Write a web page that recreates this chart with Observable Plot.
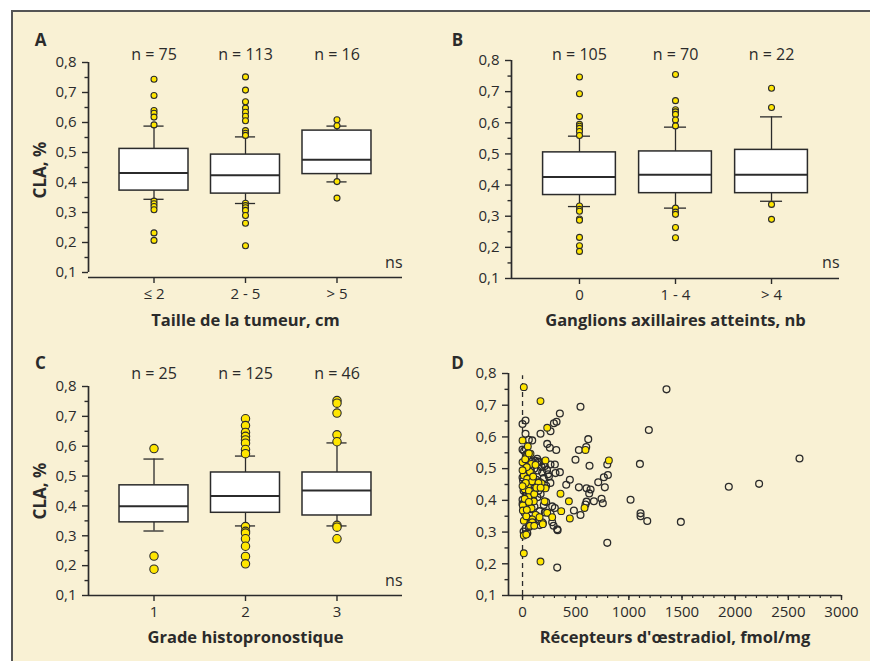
<!DOCTYPE html>
<html><head><meta charset="utf-8">
<script src="https://cdn.jsdelivr.net/npm/d3@7"></script>
<script src="https://cdn.jsdelivr.net/npm/@observablehq/plot@0.6"></script>
<style>
body{margin:0;background:#fff;}
#page{position:relative;width:870px;height:661px;overflow:hidden;background:#fff;}
#frame{position:absolute;left:11px;top:10px;width:870px;height:660px;background:#f9f1d4;border-top:2px solid #555;border-left:2px solid #555;}
.panel{position:absolute;}
</style></head><body>
<div id="page"><div id="frame"></div>
<div class="panel" id="pA" style="left:0;top:0"></div>
<div class="panel" id="pB" style="left:435px;top:0"></div>
<div class="panel" id="pC" style="left:0;top:330px"></div>
<div class="panel" id="pD" style="left:435px;top:330px"></div>
</div>
<script>
// ---------- data ----------
const yTicks = [0.1, 0.2, 0.3, 0.4, 0.5, 0.6, 0.7, 0.8];
const yTickLabels = ["0,1", "0,2", "0,3", "0,4", "0,5", "0,6", "0,7", "0,8"];
const yMinor = [0.15, 0.25, 0.35, 0.45, 0.55, 0.65, 0.75];

// Panel A : tumour size
const catsA = ["≤ 2", "2 - 5", "> 5"];
const nA = [75, 113, 16];
const wloA = [0.344, 0.330, 0.402];
const q1A = [0.373, 0.363, 0.428];
const medA = [0.432, 0.424, 0.476];
const q3A = [0.512, 0.493, 0.573];
const whiA = [0.588, 0.552, 0.588];
const outA = [
  [0.744, 0.690, 0.640, 0.631, 0.618, 0.592, 0.338, 0.329, 0.320, 0.309, 0.232, 0.207],
  [0.752, 0.708, 0.669, 0.648, 0.634, 0.621, 0.606, 0.573, 0.564, 0.557, 0.331, 0.323, 0.316, 0.307, 0.290, 0.264, 0.189],
  [0.609, 0.589, 0.403, 0.348]
];

// Panel B : axillary nodes
const catsB = ["0", "1 - 4", "> 4"];
const nB = [105, 70, 22];
const wloB = [0.331, 0.326, 0.348];
const q1B = [0.368, 0.374, 0.374];
const medB = [0.426, 0.433, 0.433];
const q3B = [0.505, 0.508, 0.513];
const whiB = [0.557, 0.586, 0.619];
const outB = [
  [0.747, 0.693, 0.620, 0.595, 0.589, 0.582, 0.572, 0.559, 0.333, 0.322, 0.316, 0.291, 0.287, 0.232, 0.205, 0.187],
  [0.755, 0.671, 0.642, 0.635, 0.627, 0.609, 0.590, 0.326, 0.313, 0.306, 0.264, 0.231],
  [0.711, 0.649, 0.338, 0.290]
];

// Panel C : histological grade
const catsC = ["1", "2", "3"];
const nC = [25, 125, 46];
const wloC = [0.316, 0.333, 0.333];
const q1C = [0.345, 0.377, 0.368];
const medC = [0.399, 0.433, 0.452];
const q3C = [0.469, 0.512, 0.512];
const whiC = [0.557, 0.567, 0.611];
const outC = [
  [0.592, 0.232, 0.188],
  [0.692, 0.669, 0.646, 0.633, 0.621, 0.610, 0.589, 0.575, 0.331, 0.315, 0.309, 0.290, 0.265, 0.231, 0.206],
  [0.753, 0.744, 0.711, 0.638, 0.615, 0.335, 0.329, 0.290]
];

// Panel D : oestradiol receptors (fmol/mg) vs CLA
const xTicksD = [0, 500, 1000, 1500, 2000, 2500, 3000];
const xTickLabelsD = ["0", "500", "1000", "1500", "2000", "2500", "3000"];
const openD = [
  [1354,0.750],[545,0.695],[351,0.674],[1188,0.622],[320,0.648],[295,0.643],[263,0.618],[169,0.610],[0,0.641],[28,0.652],
  [28,0.610],[59,0.591],[91,0.589],[232,0.578],[257,0.566],[317,0.559],[530,0.559],[599,0.568],[618,0.593],[498,0.528],
  [138,0.531],[163,0.520],[200,0.515],[263,0.513],[304,0.513],[630,0.509],[797,0.513],[351,0.489],[310,0.486],[248,0.475],
  [445,0.465],[411,0.449],[530,0.441],[602,0.438],[640,0.434],[627,0.422],[712,0.457],[774,0.441],[765,0.473],[803,0.480],
  [743,0.405],[755,0.391],[671,0.397],[602,0.396],[592,0.387],[483,0.368],[545,0.354],[279,0.381],[304,0.376],[263,0.358],
  [279,0.331],[326,0.309],[330,0.306],[797,0.266],[326,0.188],[1016,0.402],[1104,0.515],[1110,0.359],[1110,0.350],[1173,0.335],
  [1489,0.332],[1940,0.443],[2225,0.452],[2605,0.532],
  [0,0.560],[15,0.556],[35,0.545],[60,0.528],[90,0.522],[120,0.525],[150,0.522],[180,0.505],[210,0.508],[230,0.496],
  [185,0.488],[140,0.494],[110,0.500],[75,0.505],[45,0.495],[25,0.480],[0,0.472],[5,0.462],[20,0.452],[55,0.468],
  [100,0.470],[130,0.465],[160,0.458],[200,0.470],[240,0.482],[262,0.455],[222,0.446],[190,0.440],[150,0.430],[118,0.440],
  [88,0.450],[68,0.432],[40,0.420],[10,0.430],[0,0.402],[30,0.396],[60,0.410],[100,0.402],[140,0.410],[170,0.420],
  [200,0.385],[222,0.395],[112,0.380],[80,0.372],[50,0.376],[20,0.360],[0,0.388],[40,0.346],[72,0.340],[100,0.330],
  [132,0.334],[162,0.322],[192,0.328],[60,0.316],[30,0.312],[45,0.296],[10,0.302],[292,0.320],[210,0.362],[160,0.366],[130,0.352]
];
const yellowD = [
  [12,0.757],[169,0.713],[232,0.629],[0,0.589],[50,0.570],[75,0.547],[0,0.520],[82,0.515],[122,0.512],[216,0.526],
  [592,0.559],[812,0.526],[85,0.486],[12,0.478],[44,0.468],[179,0.454],[216,0.438],[82,0.428],[106,0.397],[207,0.397],
  [357,0.421],[436,0.397],[364,0.366],[445,0.343],[583,0.376],[232,0.361],[122,0.354],[3,0.384],[3,0.368],[12,0.336],
  [91,0.340],[185,0.331],[279,0.347],[160,0.347],[91,0.331],[12,0.289],[35,0.292],[12,0.233],[169,0.207],
  [50,0.445],[20,0.435],[60,0.430],[90,0.460],[70,0.490],[100,0.475],[40,0.505],[45,0.540],[30,0.455],[55,0.410],
  [110,0.420],[20,0.405],[85,0.375],[35,0.350],[150,0.455],[60,0.395],[40,0.370],[70,0.320],[110,0.320],[190,0.325],
  [0,0.495],[0,0.445],[130,0.440],[25,0.530],[60,0.548],[170,0.440]
];

// ---------- drawing ----------
const FONT = '"Open Sans", "Noto Sans", sans-serif';
const INK = "#2b2b2b";
const YELLOW = "#ffe600";
const yLabelOf = d => yTickLabels[yTicks.findIndex(t => Math.abs(t - d) < 1e-9)];

function yAxisMarks(xLeft, ymin) {
  return [
    Plot.axisY({ticks: yTicks, tickFormat: yLabelOf, tickSize: 6, tickPadding: 6, strokeWidth: 1.4, label: null}),
    Plot.axisY({ticks: yMinor, tickFormat: () => "", tickSize: 3.5, strokeWidth: 1.4, label: null}),
    Plot.ruleX([xLeft], {y1: 0.1, y2: 0.8, stroke: INK, strokeWidth: 1.7}),
    Plot.ruleY([ymin], {stroke: INK, strokeWidth: 1.7})
  ];
}

function makeBox(c) {
  const boxes = c.cats.map((cat, k) => ({i: k + 1, n: "n = " + c.n[k], wlo: c.wlo[k], q1: c.q1[k], med: c.med[k], q3: c.q3[k], whi: c.whi[k]}));
  const pts = c.outs.flatMap((arr, k) => arr.map(v => ({i: k + 1, v})));
  const x0 = 1 - c.pad, x1 = 3 + c.pad;
  const marks = [
    ...yAxisMarks(x0, c.ymin),
    Plot.axisX({ticks: [1, 2, 3], tickFormat: d => c.cats[d - 1], tickSize: 6, tickPadding: 5, strokeWidth: 1.4, label: null}),
    Plot.ruleX(boxes, {x: "i", y1: "wlo", y2: "q1", stroke: INK, strokeWidth: 1.3}),
    Plot.ruleX(boxes, {x: "i", y1: "q3", y2: "whi", stroke: INK, strokeWidth: 1.3}),
    Plot.ruleY(boxes, {y: "wlo", x1: d => d.i - c.cap, x2: d => d.i + c.cap, stroke: INK, strokeWidth: 1.3}),
    Plot.ruleY(boxes, {y: "whi", x1: d => d.i - c.cap, x2: d => d.i + c.cap, stroke: INK, strokeWidth: 1.3}),
    Plot.rect(boxes, {x1: d => d.i - c.hw, x2: d => d.i + c.hw, y1: "q1", y2: "q3", fill: "white", stroke: INK, strokeWidth: 1.5}),
    Plot.ruleY(boxes, {y: "med", x1: d => d.i - c.hw, x2: d => d.i + c.hw, stroke: INK, strokeWidth: 2}),
    Plot.dot(pts, {x: "i", y: "v", r: c.r, fill: YELLOW, stroke: INK, strokeWidth: 1.1}),
    Plot.text(boxes, {x: "i", y: 0.8, text: "n", dy: c.ndy, fill: INK, fontSize: 16}),
    Plot.text([c.letter], {frameAnchor: "top-left", dx: c.ldx, dy: c.ldy, textAnchor: "middle", lineAnchor: "middle", fontWeight: "bold", fontSize: 17, fill: INK}),
    Plot.text(["ns"], {frameAnchor: "bottom-right", dy: c.nsdy, textAnchor: "end", lineAnchor: "middle", fill: INK, fontSize: 16}),
    Plot.text([c.title], {frameAnchor: "bottom", dy: c.tdy, textAnchor: "middle", lineAnchor: "middle", fontWeight: "bold", fontSize: 16.5, fill: INK})
  ];
  if (c.ylabel) marks.push(Plot.text([c.ylabel], {frameAnchor: "left", dx: -48, rotate: -90, textAnchor: "middle", lineAnchor: "middle", fontWeight: "bold", fontSize: 17, fill: INK}));
  return Plot.plot({
    width: 435, height: c.height,
    marginLeft: c.ml, marginRight: c.mr, marginTop: c.mt, marginBottom: c.mb,
    style: {background: "transparent", fontFamily: FONT, fontSize: "15px", color: INK, overflow: "visible"},
    x: {domain: [x0, x1]},
    y: {domain: [c.ymin, 0.8]},
    marks
  });
}

document.getElementById("pA").append(makeBox({
  cats: catsA, n: nA, wlo: wloA, q1: q1A, med: medA, q3: q3A, whi: whiA, outs: outA,
  height: 330, ml: 88, mr: 33, mt: 62, mb: 53, ymin: 0.1 - 5 / 300,
  pad: 0.716, hw: 0.377, cap: 0.11, r: 3, ndy: -8, ldx: -48, ldy: -22, nsdy: -15, tdy: 43,
  letter: "A", title: "Taille de la tumeur, cm", ylabel: "CLA, %"
}));
document.getElementById("pB").append(makeBox({
  cats: catsB, n: nB, wlo: wloB, q1: q1B, med: medB, q3: q3B, whi: whiB, outs: outB,
  height: 330, ml: 76, mr: 31, mt: 60, mb: 52, ymin: 0.1,
  pad: 0.708, hw: 0.379, cap: 0.115, r: 3, ndy: -6, ldx: -54, ldy: -20, nsdy: -16, tdy: 42,
  letter: "B", title: "Ganglions axillaires atteints, nb"
}));
document.getElementById("pC").append(makeBox({
  cats: catsC, n: nC, wlo: wloC, q1: q1C, med: medC, q3: q3C, whi: whiC, outs: outC,
  height: 331, ml: 88, mr: 33, mt: 56, mb: 66, ymin: 0.1,
  pad: 0.716, hw: 0.377, cap: 0.11, r: 4.2, ndy: -13, ldx: -48, ldy: -23, nsdy: -15, tdy: 42,
  letter: "C", title: "Grade histopronostique", ylabel: "CLA, %"
}));

const xLeftD = -132;
document.getElementById("pD").append(Plot.plot({
  width: 435, height: 331,
  marginLeft: 73, marginRight: 29, marginTop: 43, marginBottom: 66,
  style: {background: "transparent", fontFamily: FONT, fontSize: "15px", color: INK, overflow: "visible"},
  x: {domain: [xLeftD, 3000]},
  y: {domain: [0.1, 0.8]},
  marks: [
    ...yAxisMarks(xLeftD, 0.1),
    Plot.axisX({ticks: xTicksD, tickFormat: d => xTickLabelsD[xTicksD.indexOf(d)], tickSize: 5, tickPadding: 6, strokeWidth: 1.4, label: null}),
    Plot.axisX({ticks: d3.range(0, 3001, 100), tickFormat: () => "", tickSize: 3, strokeWidth: 1.2, label: null}),
    Plot.ruleX([0], {y1: 0.1, y2: 0.793, stroke: INK, strokeWidth: 1.3, strokeDasharray: "5,4"}),
    Plot.dot(openD, {x: d => d[0], y: d => d[1], r: 3.4, fill: "none", stroke: INK, strokeWidth: 1.3}),
    Plot.dot(yellowD, {x: d => d[0], y: d => d[1], r: 3.4, fill: YELLOW, stroke: INK, strokeWidth: 1.1}),
    Plot.text(["D"], {frameAnchor: "top-left", dx: -51, dy: -10, textAnchor: "middle", lineAnchor: "middle", fontWeight: "bold", fontSize: 17, fill: INK}),
    Plot.text(["Récepteurs d'œstradiol, fmol/mg"], {frameAnchor: "bottom", dy: 42, textAnchor: "middle", lineAnchor: "middle", fontWeight: "bold", fontSize: 16.5, fill: INK})
  ]
}));
</script>
</body></html>
